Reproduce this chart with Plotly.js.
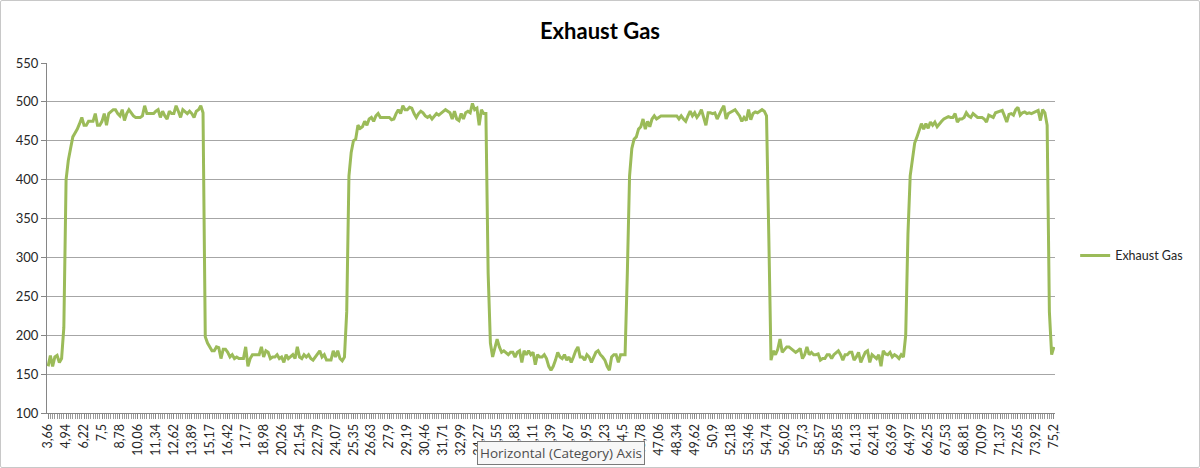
<!DOCTYPE html>
<html>
<head>
<meta charset="utf-8">
<script src="https://cdn.plot.ly/plotly-3.0.1.min.js"></script>
<style>
  html, body { margin: 0; padding: 0; background: #ffffff; }
  #frame { position: relative; width: 1200px; height: 468px; box-sizing: border-box; border: 1px solid #c8c8c8; border-radius: 2px; overflow: hidden; }
  #chart { position: absolute; left: -1px; top: -1px; width: 1200px; height: 468px; }
</style>
</head>
<body>
<div id="frame"><div id="chart"></div></div>
<script>
// Category tick labels (every 8th category is labelled)
const tickLabels = ["3,66","4,94","6,22","7,5","8,78","10,06","11,34","12,62","13,89","15,17",
  "16,42","17,7","18,98","20,26","21,54","22,79","24,07","25,35","26,63","27,9",
  "29,19","30,46","31,71","32,99","34,27","35,55","36,83","38,11","39,39","40,67",
  "41,95","43,23","44,5","45,78","47,06","48,34","49,62","50,9","52,18","53,46",
  "54,74","56,02","57,3","58,57","59,85","61,13","62,41","63,69","64,97","66,25",
  "67,53","68,81","70,09","71,37","72,65","73,92","75,2"];
const categoriesPerLabel = 8;

// Exhaust Gas series values (one per category)
const exhaustGas = [
  160,174,160,172,174,165,170,210,
  400,425,440,455,460,465,472,480,
  470,470,475,475,475,485,470,470,
  475,485,470,485,488,490,490,485,
  482,490,476,485,490,486,482,480,
  480,480,482,495,485,485,485,485,
  488,490,480,488,482,478,488,485,
  485,495,488,480,490,488,485,488,
  485,480,488,490,495,486,198,190,
  185,180,180,185,184,170,182,182,
  178,172,175,170,172,170,170,170,
  185,160,170,175,175,175,175,185,
  172,180,178,170,172,172,175,170,
  172,165,175,170,172,175,170,185,
  172,170,175,172,175,170,168,172,
  175,180,172,175,168,168,168,180,
  172,180,170,167,172,230,405,435,
  450,452,470,466,468,475,470,478,
  480,475,482,485,480,480,480,480,
  480,477,478,485,490,485,495,490,
  490,493,492,485,480,485,488,486,
  482,480,482,478,482,485,483,485,
  488,490,488,486,478,488,478,476,
  485,478,486,488,486,498,490,492,
  470,490,485,485,280,190,172,182,
  195,185,178,180,178,175,178,178,
  172,178,180,165,180,175,180,175,
  178,162,175,172,172,175,170,160,
  155,160,168,178,172,170,175,168,
  172,165,172,180,185,172,172,168,
  175,172,165,172,178,180,175,172,
  168,160,155,172,175,175,165,175,
  175,175,280,405,440,452,455,465,
  468,478,465,475,468,478,482,478,
  480,482,482,482,482,482,482,482,
  482,478,482,478,475,482,488,482,
  486,480,484,490,480,470,486,486,
  485,486,478,485,490,495,478,485,
  487,488,490,486,482,475,480,476,
  490,477,485,487,486,488,490,488,
  482,330,168,180,175,182,195,178,
  182,185,185,183,180,178,180,183,
  170,175,185,175,178,175,175,176,
  168,170,170,175,175,170,175,178,
  180,175,168,175,175,178,178,168,
  172,178,165,172,178,180,165,175,
  172,170,175,160,180,176,175,178,
  172,175,173,170,175,172,200,330,
  405,430,447,455,465,472,465,472,
  466,474,470,474,468,472,475,478,
  480,481,480,480,485,474,478,478,
  480,486,482,480,485,483,480,480,
  480,478,474,483,481,480,486,487,
  488,489,482,474,484,485,483,490,
  493,483,486,487,485,486,485,486,
  488,489,476,490,486,470,230,175,
  185
];
const seriesName = "Exhaust Gas";
const chartTitle = "Exhaust Gas";
const tooltipText = "Horizontal (Category) Axis";

const xIdx = exhaustGas.map((_, i) => i);
const tickVals = tickLabels.map((_, k) => k * categoriesPerLabel);

const font = "Lato, 'Open Sans', 'DejaVu Sans', sans-serif";

const trace = {
  x: xIdx, y: exhaustGas, type: "scatter", mode: "lines", name: seriesName,
  line: { color: "#9BBB59", width: 3 }
};

const layout = {
  width: 1200, height: 468,
  margin: { l: 47, r: 142, t: 63, b: 55 },
  paper_bgcolor: "rgba(0,0,0,0)", plot_bgcolor: "#ffffff",
  font: { family: font, size: 13, color: "#262626" },
  title: { text: "<b>" + chartTitle + "</b>", font: { family: font, size: 22, color: "#000000" },
           x: 0.5, xanchor: "center", y: 1 - 31/468, yanchor: "middle", yref: "container" },
  showlegend: true,
  legend: { x: 1.02, xanchor: "left", y: 0.449, yanchor: "middle", font: { family: font, size: 12.5, color: "#262626" },
            bgcolor: "rgba(0,0,0,0)", itemwidth: 30 },
  xaxis: {
    range: [-0.5, exhaustGas.length - 0.5],
    tickmode: "array", tickvals: tickVals, ticktext: tickLabels, tickangle: -90,
    tickfont: { family: font, size: 12.5, color: "#262626" },
    ticks: "outside", ticklen: 5, tickcolor: "#868686", tickwidth: 1,
    minor: { tickmode: "linear", tick0: 0, dtick: 1, ticks: "outside", ticklen: 5, tickcolor: "#9a9a9a", tickwidth: 1, showgrid: false },
    showline: true, linecolor: "#868686", linewidth: 1,
    showgrid: false, zeroline: false, fixedrange: true
  },
  yaxis: {
    range: [100, 550], dtick: 50, tick0: 100,
    tickfont: { family: font, size: 13, color: "#262626" },
    ticks: "outside", ticklen: 5, tickcolor: "#868686",
    showline: true, linecolor: "#868686", linewidth: 1,
    showgrid: true, gridcolor: "#a6a6a6", gridwidth: 1, zeroline: false, fixedrange: true
  },
  annotations: [{
    text: tooltipText, xref: "paper", yref: "paper",
    x: (563 - 47) / 1011, y: (413 - 453) / 350, xanchor: "center", yanchor: "middle",
    showarrow: false, font: { family: "'Open Sans', 'DejaVu Sans', sans-serif", size: 13.5, color: "#4d4d4d" },
    bgcolor: "#f7f7f7", bordercolor: "#7a7a7a", borderwidth: 1, borderpad: 2
  }]
};

Plotly.newPlot("chart", [trace], layout, { displayModeBar: false, staticPlot: true });
</script>
</body>
</html>
